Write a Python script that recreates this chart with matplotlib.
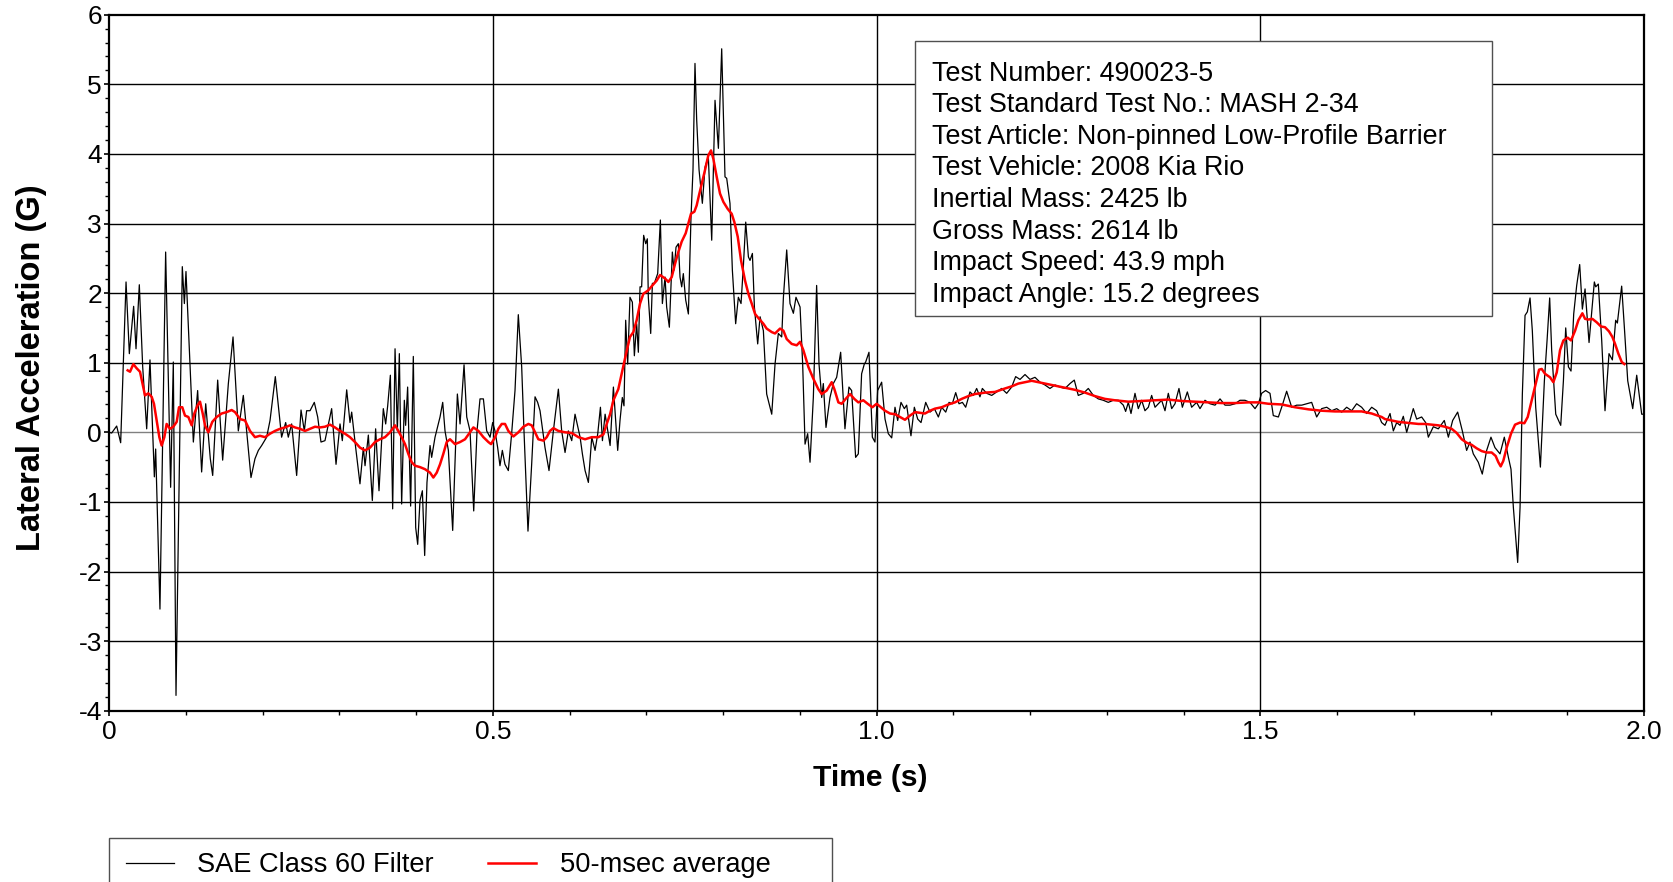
import matplotlib
matplotlib.use("Agg")
import matplotlib.pyplot as plt
from matplotlib.patches import Rectangle
from matplotlib.ticker import MultipleLocator

plt.rcParams['font.family'] = ['Liberation Sans', 'DejaVu Sans']
plt.rcParams['axes.unicode_minus'] = False

# ---------------- data ----------------
t_sae = [0.0000, 0.0035, 0.0100, 0.0152, 0.0222, 0.0265, 0.0321, 0.0352, 0.0395, 0.0439,
         0.0491, 0.0534, 0.0591, 0.0608, 0.0664, 0.0738, 0.0803, 0.0838, 0.0873, 0.0955,
         0.0982, 0.1003, 0.1099, 0.1155, 0.1207, 0.1260, 0.1320, 0.1351, 0.1416, 0.1481,
         0.1555, 0.1616, 0.1685, 0.1750, 0.1850, 0.1902, 0.1946, 0.1989, 0.2054, 0.2098,
         0.2167, 0.2249, 0.2302, 0.2336, 0.2380, 0.2445, 0.2502, 0.2545, 0.2575, 0.2619,
         0.2675, 0.2719, 0.2762, 0.2814, 0.2901, 0.2958, 0.3010, 0.3040, 0.3097, 0.3140,
         0.3162, 0.3214, 0.3270, 0.3314, 0.3336, 0.3379, 0.3431, 0.3474, 0.3518, 0.3574,
         0.3605, 0.3631, 0.3666, 0.3696, 0.3727, 0.3757, 0.3783, 0.3813, 0.3848, 0.3865,
         0.3891, 0.3930, 0.3965, 0.3996, 0.4022, 0.4052, 0.4083, 0.4113, 0.4143, 0.4183,
         0.4204, 0.4248, 0.4313, 0.4348, 0.4378, 0.4422, 0.4478, 0.4539, 0.4574, 0.4626,
         0.4661, 0.4704, 0.4752, 0.4795, 0.4834, 0.4878, 0.4921, 0.4965, 0.4999, 0.5029,
         0.5064, 0.5094, 0.5125, 0.5159, 0.5203, 0.5246, 0.5290, 0.5333, 0.5377, 0.5407,
         0.5459, 0.5507, 0.5551, 0.5585, 0.5616, 0.5681, 0.5733, 0.5790, 0.5855, 0.5898,
         0.5942, 0.5985, 0.6029, 0.6072, 0.6138, 0.6168, 0.6203, 0.6246, 0.6290, 0.6333,
         0.6368, 0.6403, 0.6429, 0.6464, 0.6498, 0.6529, 0.6572, 0.6628, 0.6658, 0.6688,
         0.6710, 0.6732, 0.6758, 0.6788, 0.6819, 0.6845, 0.6875, 0.6897, 0.6919, 0.6940,
         0.6966, 0.6993, 0.7014, 0.7027, 0.7058, 0.7080, 0.7105, 0.7149, 0.7184, 0.7210,
         0.7245, 0.7266, 0.7301, 0.7340, 0.7362, 0.7388, 0.7418, 0.7440, 0.7462, 0.7483,
         0.7514, 0.7549, 0.7583, 0.7609, 0.7635, 0.7657, 0.7688, 0.7731, 0.7766, 0.7809,
         0.7853, 0.7896, 0.7940, 0.7983, 0.8026, 0.8048, 0.8091, 0.8122, 0.8165, 0.8200,
         0.8235, 0.8265, 0.8296, 0.8331, 0.8352, 0.8383, 0.8409, 0.8452, 0.8483, 0.8526,
         0.8569, 0.8635, 0.8678, 0.8721, 0.8765, 0.8787, 0.8830, 0.8873, 0.8917, 0.8951,
         0.9004, 0.9038, 0.9069, 0.9103, 0.9134, 0.9177, 0.9220, 0.9251, 0.9286, 0.9307,
         0.9342, 0.9394, 0.9437, 0.9481, 0.9533, 0.9589, 0.9641, 0.9676, 0.9728, 0.9763,
         0.9806, 0.9841, 0.9859, 0.9902, 0.9946, 0.9980, 1.0015, 1.0067, 1.0111, 1.0154,
         1.0198, 1.0241, 1.0276, 1.0319, 1.0363, 1.0393, 1.0449, 1.0493, 1.0537, 1.0580,
         1.0641, 1.0697, 1.0754, 1.0806, 1.0849, 1.0902, 1.0945, 1.0988, 1.1032, 1.1075,
         1.1119, 1.1162, 1.1218, 1.1262, 1.1305, 1.1348, 1.1379, 1.1436, 1.1501, 1.1566,
         1.1631, 1.1696, 1.1761, 1.1813, 1.1870, 1.1935, 1.2000, 1.2065, 1.2130, 1.2195,
         1.2260, 1.2326, 1.2391, 1.2456, 1.2521, 1.2577, 1.2629, 1.2695, 1.2760, 1.2825,
         1.2890, 1.2955, 1.3020, 1.3085, 1.3151, 1.3216, 1.3246, 1.3281, 1.3316, 1.3368,
         1.3411, 1.3455, 1.3498, 1.3542, 1.3585, 1.3629, 1.3672, 1.3715, 1.3759, 1.3802,
         1.3846, 1.3889, 1.3941, 1.3985, 1.4050, 1.4106, 1.4171, 1.4215, 1.4280, 1.4345,
         1.4411, 1.4476, 1.4541, 1.4606, 1.4671, 1.4736, 1.4801, 1.4866, 1.4932, 1.4975,
         1.5018, 1.5070, 1.5127, 1.5170, 1.5236, 1.5288, 1.5344, 1.5410, 1.5475, 1.5540,
         1.5605, 1.5670, 1.5735, 1.5800, 1.5866, 1.5931, 1.5996, 1.6061, 1.6126, 1.6191,
         1.6256, 1.6321, 1.6387, 1.6452, 1.6517, 1.6582, 1.6625, 1.6691, 1.6734, 1.6778,
         1.6821, 1.6864, 1.6908, 1.6951, 1.6994, 1.7038, 1.7103, 1.7155, 1.7190, 1.7255,
         1.7320, 1.7398, 1.7451, 1.7507, 1.7572, 1.7633, 1.7689, 1.7733, 1.7776, 1.7841,
         1.7893, 1.7950, 1.8006, 1.8058, 1.8124, 1.8180, 1.8233, 1.8267, 1.8298, 1.8354,
         1.8385, 1.8415, 1.8450, 1.8480, 1.8515, 1.8545, 1.8589, 1.8650, 1.8702, 1.8737,
         1.8771, 1.8797, 1.8850, 1.8915, 1.8950, 1.8980, 1.9015, 1.9049, 1.9084, 1.9123,
         1.9162, 1.9197, 1.9232, 1.9284, 1.9353, 1.9371, 1.9405, 1.9449, 1.9492, 1.9544,
         1.9588, 1.9631, 1.9653, 1.9709, 1.9744, 1.9788, 1.9853, 1.9905, 1.9970, 2.0000]
a_sae = [0.00, -0.01, 0.09, -0.15, 2.16, 1.13, 1.81, 1.20, 2.12, 0.94,
         0.05, 1.04, -0.64, -0.24, -2.54, 2.59, -0.79, 1.01, -3.78, 2.38,
         1.85, 2.31, -0.14, 0.60, -0.57, 0.41, -0.38, -0.62, 0.75, -0.40,
         0.70, 1.37, 0.02, 0.53, -0.65, -0.38, -0.26, -0.19, -0.07, 0.17,
         0.80, -0.07, 0.14, -0.07, 0.12, -0.62, 0.32, 0.02, 0.31, 0.31,
         0.43, 0.22, -0.14, -0.12, 0.34, -0.46, 0.12, -0.12, 0.61, 0.14,
         0.29, -0.22, -0.74, -0.22, -0.48, -0.04, -0.98, 0.05, -0.84, 0.34,
         0.12, 0.38, 0.82, -1.10, 1.20, 0.02, 1.13, -1.03, 0.46, 0.10,
         0.65, -1.06, 1.09, -1.37, -1.61, -0.98, -0.84, -1.77, -0.72, -0.19,
         -0.36, -0.07, 0.22, 0.43, 0.02, -0.26, -1.41, 0.55, 0.12, 0.97,
         0.22, 0.02, -1.13, 0.02, 0.48, 0.48, 0.02, -0.07, 0.14, 0.02,
         -0.22, -0.48, -0.26, -0.46, -0.55, -0.02, 0.60, 1.69, 0.94, 0.02,
         -1.42, -0.46, 0.51, 0.43, 0.31, -0.22, -0.55, 0.02, 0.62, 0.02,
         -0.29, 0.02, -0.12, 0.26, -0.07, -0.31, -0.55, -0.72, -0.07, -0.26,
         -0.02, 0.36, -0.12, 0.26, 0.02, -0.19, 0.65, -0.26, 0.17, 0.50,
         0.38, 1.61, 0.98, 1.94, 1.87, 1.10, 1.56, 1.15, 2.09, 2.09,
         2.83, 2.71, 2.78, 1.94, 1.42, 2.14, 2.14, 2.28, 3.05, 1.85,
         2.23, 1.80, 1.51, 2.59, 2.33, 2.66, 2.71, 2.23, 2.09, 2.28,
         1.90, 1.70, 3.09, 3.77, 5.30, 4.49, 3.77, 3.29, 3.81, 3.96,
         2.76, 4.77, 4.08, 5.51, 3.67, 3.65, 3.29, 2.33, 1.56, 1.94,
         1.85, 2.38, 3.02, 2.52, 2.47, 2.57, 1.80, 1.27, 1.66, 1.46,
         0.55, 0.26, 0.98, 1.42, 1.37, 1.94, 2.62, 1.85, 1.71, 1.94,
         1.80, 0.98, -0.17, -0.02, -0.43, 0.50, 2.11, 0.98, 0.50, 0.70,
         0.07, 0.50, 0.70, 0.79, 1.15, 0.05, 0.65, 0.60, -0.36, -0.31,
         0.84, 0.98, 1.01, 1.15, -0.07, -0.14, 0.60, 0.72, 0.19, -0.02,
         -0.08, 0.36, 0.17, 0.43, 0.34, 0.39, -0.05, 0.36, 0.19, 0.14,
         0.43, 0.29, 0.34, 0.22, 0.36, 0.29, 0.43, 0.41, 0.57, 0.41,
         0.43, 0.36, 0.58, 0.53, 0.63, 0.51, 0.63, 0.56, 0.53, 0.58,
         0.63, 0.56, 0.65, 0.80, 0.76, 0.83, 0.76, 0.79, 0.72, 0.68,
         0.63, 0.68, 0.65, 0.63, 0.70, 0.75, 0.53, 0.56, 0.63, 0.53,
         0.48, 0.46, 0.43, 0.46, 0.46, 0.39, 0.30, 0.43, 0.27, 0.56,
         0.34, 0.46, 0.31, 0.36, 0.53, 0.36, 0.41, 0.46, 0.31, 0.56,
         0.34, 0.41, 0.63, 0.36, 0.58, 0.36, 0.43, 0.34, 0.46, 0.41,
         0.39, 0.48, 0.39, 0.39, 0.41, 0.46, 0.46, 0.43, 0.34, 0.41,
         0.56, 0.60, 0.56, 0.24, 0.22, 0.39, 0.59, 0.36, 0.39, 0.39,
         0.41, 0.43, 0.22, 0.34, 0.36, 0.31, 0.34, 0.29, 0.36, 0.31,
         0.41, 0.36, 0.27, 0.36, 0.31, 0.14, 0.10, 0.27, 0.02, 0.14,
         0.10, 0.23, 0.00, 0.17, 0.34, 0.19, 0.22, 0.14, -0.07, 0.08,
         0.05, 0.17, -0.07, 0.17, 0.29, 0.02, -0.26, -0.14, -0.31, -0.43,
         -0.60, -0.26, -0.07, -0.22, -0.31, -0.07, -0.36, -0.53, -1.08, -1.87,
         -1.08, 0.55, 1.68, 1.73, 1.93, 1.46, 0.36, -0.50, 0.74, 1.32,
         1.93, 1.18, 0.26, 0.10, 0.74, 1.50, 0.94, 0.88, 1.70, 2.11,
         2.41, 1.77, 2.06, 1.29, 2.16, 2.09, 2.13, 1.32, 0.31, 1.13,
         1.04, 1.61, 1.57, 2.10, 1.51, 0.74, 0.34, 0.82, 0.26, 0.26]

t_avg = [0.0243, 0.0274, 0.0317, 0.0360, 0.0404, 0.0447, 0.0469, 0.0512, 0.0556, 0.0586,
         0.0621, 0.0656, 0.0686, 0.0721, 0.0751, 0.0795, 0.0838, 0.0882, 0.0912, 0.0955,
         0.0990, 0.1034, 0.1077, 0.1112, 0.1155, 0.1186, 0.1221, 0.1251, 0.1294, 0.1346,
         0.1403, 0.1468, 0.1533, 0.1598, 0.1642, 0.1707, 0.1772, 0.1837, 0.1902, 0.1967,
         0.2033, 0.2098, 0.2163, 0.2228, 0.2293, 0.2358, 0.2423, 0.2488, 0.2554, 0.2619,
         0.2684, 0.2749, 0.2814, 0.2879, 0.2944, 0.3010, 0.3075, 0.3140, 0.3205, 0.3270,
         0.3335, 0.3401, 0.3466, 0.3531, 0.3596, 0.3661, 0.3727, 0.3770, 0.3813, 0.3857,
         0.3900, 0.3944, 0.3987, 0.4052, 0.4117, 0.4183, 0.4226, 0.4270, 0.4313, 0.4356,
         0.4400, 0.4443, 0.4508, 0.4574, 0.4639, 0.4704, 0.4748, 0.4813, 0.4878, 0.4943,
         0.4978, 0.5030, 0.5073, 0.5117, 0.5160, 0.5203, 0.5269, 0.5334, 0.5399, 0.5464,
         0.5508, 0.5551, 0.5594, 0.5660, 0.5703, 0.5746, 0.5790, 0.5855, 0.5942, 0.6029,
         0.6116, 0.6203, 0.6290, 0.6376, 0.6442, 0.6485, 0.6529, 0.6572, 0.6636, 0.6680,
         0.6723, 0.6788, 0.6832, 0.6875, 0.6919, 0.6962, 0.7027, 0.7080, 0.7136, 0.7180,
         0.7245, 0.7288, 0.7332, 0.7375, 0.7418, 0.7462, 0.7514, 0.7549, 0.7583, 0.7627,
         0.7657, 0.7688, 0.7723, 0.7766, 0.7809, 0.7844, 0.7874, 0.7918, 0.7961, 0.8005,
         0.8061, 0.8113, 0.8148, 0.8192, 0.8235, 0.8287, 0.8331, 0.8374, 0.8418, 0.8470,
         0.8526, 0.8569, 0.8635, 0.8678, 0.8743, 0.8787, 0.8830, 0.8895, 0.8960, 0.9004,
         0.9047, 0.9112, 0.9177, 0.9242, 0.9286, 0.9351, 0.9416, 0.9451, 0.9503, 0.9546,
         0.9598, 0.9655, 0.9711, 0.9763, 0.9828, 0.9885, 0.9946, 1.0002, 1.0111, 1.0176,
         1.0241, 1.0306, 1.0371, 1.0436, 1.0502, 1.0567, 1.0632, 1.0697, 1.0762, 1.0849,
         1.0936, 1.1023, 1.1110, 1.1197, 1.1284, 1.1414, 1.1544, 1.1675, 1.1761, 1.1848,
         1.1935, 1.2022, 1.2109, 1.2195, 1.2326, 1.2456, 1.2587, 1.2717, 1.2847, 1.2977,
         1.3107, 1.3281, 1.3455, 1.3629, 1.3802, 1.3976, 1.4150, 1.4324, 1.4497, 1.4671,
         1.4845, 1.4975, 1.5105, 1.5279, 1.5453, 1.5627, 1.5800, 1.5974, 1.6148, 1.6321,
         1.6452, 1.6582, 1.6625, 1.6712, 1.6799, 1.6886, 1.6973, 1.7060, 1.7147, 1.7233,
         1.7320, 1.7407, 1.7494, 1.7560, 1.7625, 1.7689, 1.7755, 1.7820, 1.7885, 1.7950,
         1.8015, 1.8067, 1.8102, 1.8133, 1.8167, 1.8211, 1.8267, 1.8320, 1.8385, 1.8441,
         1.8485, 1.8537, 1.8589, 1.8633, 1.8667, 1.8711, 1.8776, 1.8819, 1.8863, 1.8906,
         1.8950, 1.9006, 1.9049, 1.9102, 1.9145, 1.9197, 1.9232, 1.9275, 1.9327, 1.9384,
         1.9440, 1.9492, 1.9544, 1.9588, 1.9623, 1.9666, 1.9710, 1.9744]
a_avg = [0.89, 0.87, 0.98, 0.92, 0.87, 0.65, 0.53, 0.56, 0.51, 0.41,
         0.17, -0.07, -0.19, -0.07, 0.12, 0.05, 0.08, 0.15, 0.36, 0.36,
         0.24, 0.22, 0.10, 0.27, 0.39, 0.44, 0.27, 0.10, 0.00, 0.15,
         0.22, 0.27, 0.29, 0.32, 0.29, 0.19, 0.17, 0.02, -0.07, -0.05,
         -0.07, -0.02, 0.02, 0.05, 0.07, 0.10, 0.07, 0.05, 0.02, 0.05,
         0.08, 0.07, 0.08, 0.11, 0.07, 0.02, -0.02, -0.07, -0.14, -0.22,
         -0.26, -0.22, -0.14, -0.10, -0.07, 0.00, 0.10, 0.02, -0.07, -0.17,
         -0.31, -0.43, -0.48, -0.50, -0.53, -0.58, -0.65, -0.58, -0.46, -0.31,
         -0.14, -0.10, -0.17, -0.14, -0.10, 0.00, 0.07, 0.02, -0.07, -0.14,
         -0.17, -0.07, 0.05, 0.12, 0.12, 0.02, -0.06, 0.00, 0.08, 0.12,
         0.10, 0.00, -0.10, -0.12, -0.07, 0.02, 0.06, 0.02, 0.00, -0.01,
         -0.07, -0.10, -0.07, -0.07, -0.03, 0.12, 0.26, 0.46, 0.62, 0.84,
         1.06, 1.37, 1.44, 1.61, 1.85, 1.99, 2.04, 2.11, 2.18, 2.26,
         2.21, 2.16, 2.23, 2.42, 2.59, 2.74, 2.86, 3.00, 3.14, 3.17,
         3.26, 3.41, 3.57, 3.77, 3.98, 4.05, 3.93, 3.67, 3.43, 3.31,
         3.21, 3.14, 3.02, 2.81, 2.47, 2.18, 1.99, 1.85, 1.70, 1.63,
         1.56, 1.49, 1.44, 1.42, 1.49, 1.46, 1.34, 1.27, 1.25, 1.30,
         1.18, 0.94, 0.77, 0.62, 0.55, 0.60, 0.72, 0.62, 0.43, 0.41,
         0.48, 0.55, 0.48, 0.43, 0.46, 0.41, 0.36, 0.41, 0.31, 0.27,
         0.26, 0.22, 0.18, 0.24, 0.29, 0.28, 0.27, 0.31, 0.34, 0.36,
         0.40, 0.43, 0.48, 0.52, 0.55, 0.57, 0.58, 0.63, 0.66, 0.70,
         0.72, 0.74, 0.72, 0.70, 0.67, 0.64, 0.61, 0.57, 0.52, 0.48,
         0.46, 0.44, 0.45, 0.46, 0.47, 0.45, 0.44, 0.43, 0.42, 0.42,
         0.43, 0.43, 0.41, 0.40, 0.36, 0.33, 0.31, 0.30, 0.30, 0.30,
         0.27, 0.22, 0.19, 0.17, 0.15, 0.14, 0.13, 0.12, 0.12, 0.11,
         0.10, 0.08, 0.05, -0.01, -0.10, -0.15, -0.18, -0.23, -0.27, -0.29,
         -0.29, -0.34, -0.43, -0.49, -0.41, -0.22, -0.02, 0.11, 0.14, 0.13,
         0.22, 0.46, 0.70, 0.90, 0.91, 0.84, 0.79, 0.72, 0.86, 1.18,
         1.32, 1.36, 1.32, 1.46, 1.61, 1.71, 1.63, 1.62, 1.63, 1.58,
         1.52, 1.51, 1.45, 1.37, 1.27, 1.13, 1.01, 0.98]

series_labels = ["SAE Class 60 Filter", "50-msec average"]
x_ticks = [0.0, 0.5, 1.0, 1.5, 2.0]
x_tick_labels = ["0", "0.5", "1.0", "1.5", "2.0"]
y_ticks = [-4, -3, -2, -1, 0, 1, 2, 3, 4, 5, 6]
y_tick_labels = ["-4", "-3", "-2", "-1", "0", "1", "2", "3", "4", "5", "6"]
x_label = "Time (s)"
y_label = "Lateral Acceleration (G)"
info_lines = ["Test Number: 490023-5",
              "Test Standard Test No.: MASH 2-34",
              "Test Article: Non-pinned Low-Profile Barrier",
              "Test Vehicle: 2008 Kia Rio",
              "Inertial Mass: 2425 lb",
              "Gross Mass: 2614 lb",
              "Impact Speed: 43.9 mph",
              "Impact Angle: 15.2 degrees"]

# ---------------- figure ----------------
W, H = 1673, 882
fig = plt.figure(figsize=(W / 100, H / 100), dpi=100)
fig.patch.set_facecolor('white')

def fx(px):
    return px / W

def fy(py):
    return 1 - py / H

ax_l, ax_r, ax_t, ax_b = 109, 1644, 14.7, 710.7
ax = fig.add_axes([fx(ax_l), fy(ax_b), fx(ax_r - ax_l), (ax_b - ax_t) / H])
ax.set_xlim(x_ticks[0], x_ticks[-1])
ax.set_ylim(y_ticks[0], y_ticks[-1])

# grid
for yv in y_ticks[1:-1]:
    ax.axhline(yv, color='#808080' if yv == 0 else 'black', lw=1.0, zorder=1)
for xv in x_ticks[1:-1]:
    ax.axvline(xv, color='black', lw=1.0, zorder=1)

l1, = ax.plot(t_sae, a_sae, color='black', lw=0.9, zorder=3)
l2, = ax.plot(t_avg, a_avg, color='#ff0000', lw=1.8, zorder=4)

ax.set_xticks(x_ticks)
ax.set_xticklabels(x_tick_labels, fontsize=19)
ax.set_yticks(y_ticks)
ax.set_yticklabels(y_tick_labels, fontsize=19)
ax.xaxis.set_minor_locator(MultipleLocator(0.1))
ax.yaxis.set_minor_locator(MultipleLocator(0.2))
ax.tick_params(which='major', direction='out', length=3.5, width=1.2, color='black')
ax.tick_params(which='minor', direction='out', length=3, width=1.0, color='black')
ax.tick_params(axis='x', pad=3)
ax.tick_params(axis='y', pad=1.5)
for sp in ax.spines.values():
    sp.set_linewidth(1.6)
    sp.set_color('black')

ax.set_xlabel(x_label, fontsize=21.6, fontweight='bold')
ax.xaxis.label.set_va('center')
ax.xaxis.set_label_coords((870.6 - ax_l) / (ax_r - ax_l), (ax_b - 778) / (ax_b - ax_t))
ax.set_ylabel(y_label, fontsize=23.5, fontweight='bold')
ax.yaxis.label.set_va('center')
ax.yaxis.set_label_coords((32 - ax_l) / (ax_r - ax_l), (ax_b - 367.6) / (ax_b - ax_t))

# info box
bx0, bx1, by0, by1 = 915.3, 1492.4, 40.7, 316.0
fig.add_artist(Rectangle((fx(bx0), fy(by1)), fx(bx1 - bx0), (by1 - by0) / H,
                         transform=fig.transFigure, facecolor='white',
                         edgecolor='#505050', lw=1.0, zorder=5))
for i, line in enumerate(info_lines):
    fig.text(fx(932.5), fy(80.7 + i * 31.57), line, fontsize=19.4,
             ha='left', va='baseline', zorder=6)

# legend box
fig.add_artist(Rectangle((fx(108.8), fy(900)), fx(832.2 - 108.8), (900 - 837.6) / H,
                         transform=fig.transFigure, facecolor='white',
                         edgecolor='#505050', lw=1.0, zorder=5, clip_on=False))
leg = fig.legend([l1, l2], series_labels, loc='center left',
                 bbox_to_anchor=(fx(125.9), fy(865.3)), ncol=2, frameon=False,
                 fontsize=19.6, handlelength=1.76, handletextpad=0.86,
                 columnspacing=2.0, borderpad=0, borderaxespad=0)
leg.set_zorder(6)

fig.savefig('out.png', dpi=100)
